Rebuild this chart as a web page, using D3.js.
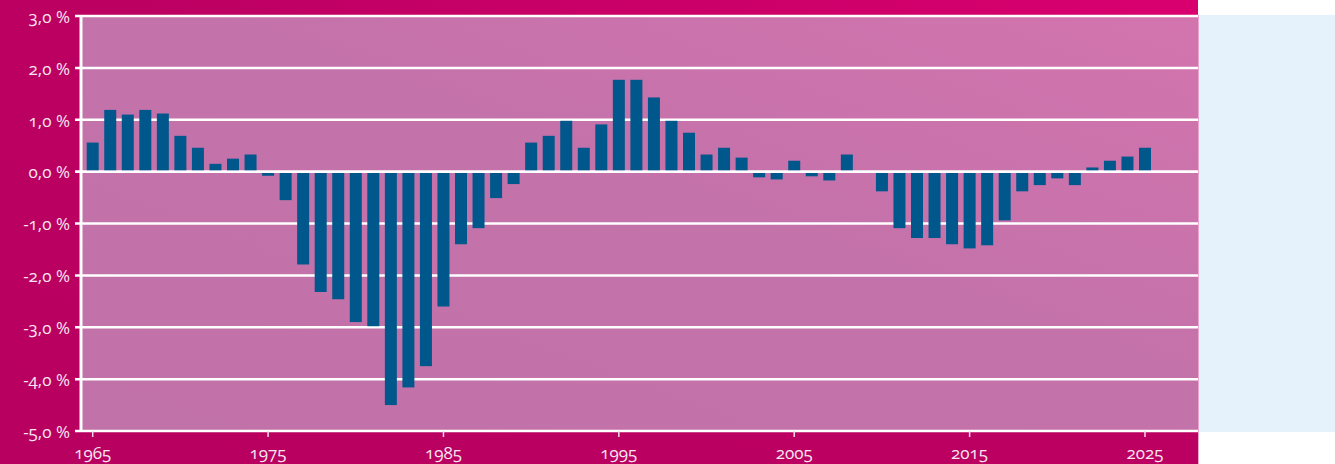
<!DOCTYPE html>
<html>
<head>
<meta charset="utf-8">
<script src="https://cdn.jsdelivr.net/npm/d3@7"></script>
<style>
  html, body { margin: 0; padding: 0; background: #fff; }
  svg { display: block; }
  text { font-family: "Open Sans", "Lato", sans-serif; font-variant-numeric: oldstyle-nums; font-feature-settings: "onum" 1; }
</style>
</head>
<body>
<svg id="grafico"></svg>
<script>
var anos = [1965, 1966, 1967, 1968, 1969, 1970, 1971, 1972, 1973, 1974,
            1975, 1976, 1977, 1978, 1979, 1980, 1981, 1982, 1983, 1984,
            1985, 1986, 1987, 1988, 1989, 1990, 1991, 1992, 1993, 1994,
            1995, 1996, 1997, 1998, 1999, 2000, 2001, 2002, 2003, 2004,
            2005, 2006, 2007, 2008, 2009, 2010, 2011, 2012, 2013, 2014,
            2015, 2016, 2017, 2018, 2019, 2020, 2021, 2022, 2023, 2024,
            2025];
var valores = [0.56, 1.19, 1.10, 1.19, 1.12, 0.69, 0.46, 0.15, 0.25, 0.33,
               -0.08, -0.55, -1.79, -2.32, -2.46, -2.90, -2.98, -4.50, -4.16, -3.75,
               -2.60, -1.40, -1.09, -0.51, -0.24, 0.56, 0.69, 0.98, 0.46, 0.91,
               1.77, 1.77, 1.43, 0.98, 0.75, 0.33, 0.46, 0.27, -0.11, -0.15,
               0.21, -0.09, -0.17, 0.33, 0, -0.38, -1.09, -1.28, -1.28, -1.40,
               -1.48, -1.42, -0.94, -0.38, -0.26, -0.13, -0.26, 0.08, 0.21, 0.29,
               0.46];
var ticksY = [3, 2, 1, 0, -1, -2, -3, -4, -5];
var ticksX = [1965, 1975, 1985, 1995, 2005, 2015, 2025];

var largura = 1335, altura = 464;
var svg = d3.select('#grafico').attr('width', largura).attr('height', altura);

var defs = svg.append('defs');
var gFundo = defs.append('linearGradient').attr('id', 'fundo')
  .attr('x1', '0%').attr('y1', '100%').attr('x2', '100%').attr('y2', '0%');
gFundo.append('stop').attr('offset', '0%').attr('stop-color', '#b80060');
gFundo.append('stop').attr('offset', '55%').attr('stop-color', '#bc0062');
gFundo.append('stop').attr('offset', '100%').attr('stop-color', '#d9006f');
var gPlot = defs.append('linearGradient').attr('id', 'plot')
  .attr('x1', '0%').attr('y1', '100%').attr('x2', '100%').attr('y2', '0%');
gPlot.append('stop').attr('offset', '0%').attr('stop-color', '#c172a9');
gPlot.append('stop').attr('offset', '55%').attr('stop-color', '#c472aa');
gPlot.append('stop').attr('offset', '100%').attr('stop-color', '#d374ae');

var margem = { esquerda: 81, direita: 1198, superior: 16, inferior: 431 };

// painel azul claro a direita
svg.append('rect').attr('x', 1198).attr('y', 15).attr('width', largura - 1198).attr('height', 417)
  .attr('fill', '#e5f2fb');
// fundo magenta
svg.append('rect').attr('x', 0).attr('y', 0).attr('width', 1198).attr('height', altura)
  .attr('fill', 'url(#fundo)');
// area de plotagem
svg.append('rect').attr('x', margem.esquerda).attr('y', margem.superior)
  .attr('width', margem.direita - margem.esquerda).attr('height', margem.inferior - margem.superior)
  .attr('fill', 'url(#plot)');
svg.append('line').attr('x1', 1198.5).attr('x2', 1198.5).attr('y1', 15).attr('y2', altura)
  .attr('stroke', '#e9a6cf').attr('stroke-width', 1);

var x = d3.scaleLinear().domain([1965, 2025]).range([92.7, 1145]);
var y = d3.scaleLinear().domain([-5, 3]).range([margem.inferior, margem.superior]);
var fmt = function (d) { return d3.format('.1f')(d).replace('.', ',').replace('−', '-') + ' %'; };

// linhas de grade e rotulos do eixo y
svg.append('g').selectAll('line').data(ticksY).enter().append('line')
  .attr('x1', 75).attr('x2', margem.direita)
  .attr('y1', d => y(d)).attr('y2', d => y(d))
  .attr('stroke', '#ffffff').attr('stroke-width', 2.5);
svg.append('g').selectAll('text').data(ticksY).enter().append('text')
  .attr('x', 70).attr('y', d => y(d)).attr('dy', '0.4em')
  .attr('text-anchor', 'end').attr('fill', '#f6e6f0').attr('font-size', 17)
  .text(fmt);

// barras
var larguraBarra = 12;
svg.append('g').selectAll('rect').data(valores).enter().append('rect')
  .attr('x', (d, i) => x(anos[i]) - larguraBarra / 2)
  .attr('y', d => d >= 0 ? y(d) : y(0) + 1)
  .attr('width', larguraBarra)
  .attr('height', d => Math.max(0, d >= 0 ? y(0) - y(d) - 1 : y(d) - y(0) - 1))
  .attr('fill', '#00578c');

// linha zero por cima
svg.append('line').attr('x1', 75).attr('x2', margem.direita)
  .attr('y1', y(0)).attr('y2', y(0)).attr('stroke', '#ffffff').attr('stroke-width', 2.5);

// eixo y
svg.append('line').attr('x1', 81).attr('x2', 81).attr('y1', margem.superior - 1).attr('y2', margem.inferior + 1)
  .attr('stroke', '#ffffff').attr('stroke-width', 3);

// eixo x
svg.append('g').selectAll('line').data(ticksX).enter().append('line')
  .attr('x1', d => x(d)).attr('x2', d => x(d))
  .attr('y1', margem.inferior).attr('y2', margem.inferior + 6)
  .attr('stroke', '#f3d7e8').attr('stroke-width', 1.5);
svg.append('g').selectAll('text').data(ticksX).enter().append('text')
  .attr('x', d => x(d)).attr('y', 453).attr('dy', '0.36em')
  .attr('text-anchor', 'middle').attr('fill', '#f6e6f0').attr('font-size', 17)
  .text(d => d);
</script>
</body>
</html>
